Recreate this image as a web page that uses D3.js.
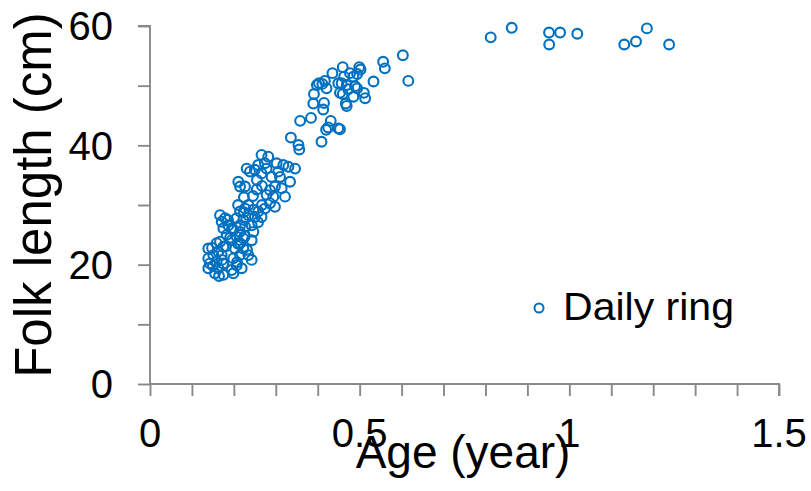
<!DOCTYPE html>
<html>
<head>
<meta charset="utf-8">
<script src="https://cdn.jsdelivr.net/npm/d3@7"></script>
<style>
  html, body { margin: 0; padding: 0; background: #fff; }
  svg { display: block; font-family: "Liberation Sans", Arial, sans-serif; }
</style>
</head>
<body>
<svg id="chart" width="811" height="491"></svg>
<script>
// Age (year) and fork length (cm) of each daily-ring reading
const ages = [
  0.8125, 0.8626, 0.9516, 0.978, 0.952, 1.019, 1.131, 1.159, 1.185, 1.238,
  0.603, 0.556, 0.560, 0.616, 0.533, 0.499, 0.502, 0.494, 0.485, 0.4596,
  0.477, 0.435, 0.417, 0.403, 0.398, 0.411, 0.421, 0.449, 0.463, 0.457,
  0.469, 0.489, 0.494, 0.473, 0.453, 0.4596, 0.485, 0.510, 0.513, 0.391,
  0.3895, 0.415, 0.413, 0.467, 0.469, 0.358, 0.384, 0.431, 0.420, 0.425,
  0.449, 0.453, 0.409, 0.336, 0.354, 0.356,
  0.266, 0.282, 0.2306, 0.2385, 0.250, 0.258, 0.274, 0.266, 0.278, 0.302,
  0.318, 0.330, 0.346, 0.306, 0.290, 0.310, 0.334, 0.2106, 0.2147, 0.2266,
  0.2545, 0.286, 0.298, 0.314, 0.278, 0.294, 0.322, 0.286, 0.298, 0.274,
  0.2345, 0.2266, 0.2465, 0.258, 0.2147, 0.167, 0.179, 0.171, 0.2067, 0.2226,
  0.2345, 0.250, 0.266, 0.2147, 0.2266, 0.2425, 0.1868, 0.1749, 0.1987, 0.2147,
  0.2465, 0.183, 0.2067, 0.2226, 0.2425, 0.1948, 0.167, 0.159, 0.2147, 0.1749,
  0.2027, 0.2226, 0.139, 0.163, 0.151, 0.171, 0.2147, 0.2345, 0.1987, 0.139,
  0.2425, 0.159, 0.143, 0.1749, 0.2067, 0.139, 0.163, 0.1948, 0.2186, 0.155,
  0.1749, 0.1987,
  0.148, 0.150, 0.1646, 0.1717, 0.181, 0.191, 0.186, 0.1956, 0.210, 0.2266,
  0.2313, 0.2075, 0.224, 0.210, 0.2576, 0.267, 0.2456, 0.224, 0.255, 0.267
];
const lengths = [
  58.1, 59.7, 58.9, 58.9, 56.9, 58.7, 56.9, 57.4, 59.6, 56.9,
  55.1, 54.0, 52.9, 50.8, 50.7, 53.1, 52.7, 51.95, 51.5, 53.1,
  52.1, 52.1, 50.8, 50.4, 50.1, 50.3, 49.55, 50.4, 51.5, 50.4,
  50.1, 49.9, 49.55, 49.4, 48.8, 48.6, 48.15, 48.8, 47.9, 48.6,
  47.0, 47.1, 46.0, 47.0, 46.6, 44.1, 44.6, 44.1, 42.6, 43.0,
  42.85, 42.7, 40.6, 41.3, 40.05, 39.3,
  38.4, 38.1, 36.1, 35.6, 35.9, 36.7, 37.0, 35.3, 36.1, 37.0,
  36.7, 36.4, 36.1, 35.6, 34.7, 34.7, 33.9, 33.9, 33.1, 33.1,
  32.6, 32.5, 33.1, 32.8, 31.7, 31.4, 31.4, 30.3, 29.7, 29.4,
  30.0, 29.4, 29.2, 28.9, 28.9, 28.3, 27.8, 27.2, 27.8, 27.5,
  28.3, 28.0, 28.0, 26.6, 26.4, 26.6, 26.6, 26.1, 25.8, 25.5,
  25.5, 25.0, 24.7, 24.4, 24.1, 24.1, 23.85, 23.6, 23.6, 23.0,
  22.7, 22.7, 22.7, 22.2, 21.6, 21.6, 21.6, 21.6, 21.05, 21.05,
  20.8, 20.5, 20.2, 20.2, 19.9, 19.4, 19.4, 19.1, 19.4, 18.55,
  18.3, 18.55,
  22.8, 19.8, 18.1, 20.8, 23.1, 24.5, 27.5, 26.1, 23.5, 24.8,
  22.5, 20.4, 28.8, 30.0, 27.1, 30.0, 31.5, 31.3, 34.2, 33.2
];
const xTickValues = [0, 0.5, 1, 1.5];
const yTickValues = [0, 20, 40, 60];
const seriesName = "Daily ring";
const xTitle = "Age (year)";
const yTitle = "Folk length (cm)";

const points = ages.map((a, i) => ({ age: a, len: lengths[i] }));

const svg = d3.select("#chart");
const x = d3.scaleLinear().domain([0, 1.5]).range([150, 779]);
const y = d3.scaleLinear().domain([0, 60]).range([384, 26]);

const axisColor = "#898989";
const blue = "#0070C0";
const tickLen = 12;

// minor + major ticks, no labels
const xAxis = d3.axisBottom(x).tickValues(d3.range(0, 1.501, 0.1)).tickSize(tickLen).tickFormat("");
const yAxis = d3.axisLeft(y).tickValues(d3.range(0, 60.01, 10)).tickSize(tickLen).tickFormat("");

const gx = svg.append("g").attr("transform", `translate(0,${y(0)})`).call(xAxis);
const gy = svg.append("g").attr("transform", `translate(${x(0)},0)`).call(yAxis);
[gx, gy].forEach(g => {
  g.select(".domain").attr("stroke", axisColor).attr("stroke-width", 1.9);
  g.selectAll(".tick line").attr("stroke", axisColor).attr("stroke-width", 1.9);
});
gy.select(".domain").attr("d", `M-${tickLen},${y(60)}H0V${y(0)}`);
gx.select(".domain").attr("d", `M${x(0)},0H${x(1.5)}V${tickLen}`);

// tick labels
svg.append("g").selectAll("text").data(xTickValues).join("text")
  .attr("x", d => x(d)).attr("y", 447)
  .attr("text-anchor", "middle")
  .attr("font-size", 40).attr("fill", "#000")
  .text(d => d3.format("")(d));

svg.append("g").selectAll("text").data(yTickValues).join("text")
  .attr("x", 113).attr("y", d => y(d))
  .attr("dy", "0.355em")
  .attr("text-anchor", "end")
  .attr("font-size", 40).attr("fill", "#000")
  .text(d => d);

// axis titles
svg.append("text")
  .attr("x", 463).attr("y", 468)
  .attr("text-anchor", "middle")
  .attr("font-size", 46).attr("fill", "#000")
  .text(xTitle);

svg.append("text")
  .attr("transform", `translate(51,195) rotate(-90)`)
  .attr("text-anchor", "middle")
  .attr("font-size", 51).attr("fill", "#000")
  .text(yTitle);

// scatter points
svg.append("g").selectAll("circle").data(points).join("circle")
  .attr("cx", d => x(d.age)).attr("cy", d => y(d.len))
  .attr("r", 4.9)
  .attr("fill", "none")
  .attr("stroke", blue)
  .attr("stroke-width", 2.1);

// legend
const leg = svg.append("g");
leg.append("circle").attr("cx", 539).attr("cy", 308).attr("r", 4.5)
  .attr("fill", "none").attr("stroke", blue).attr("stroke-width", 2);
leg.append("text").attr("x", 563).attr("y", 320)
  .attr("font-size", 39).attr("fill", "#000")
  .attr("textLength", 171).attr("lengthAdjust", "spacingAndGlyphs")
  .text(seriesName);
</script>
</body>
</html>
